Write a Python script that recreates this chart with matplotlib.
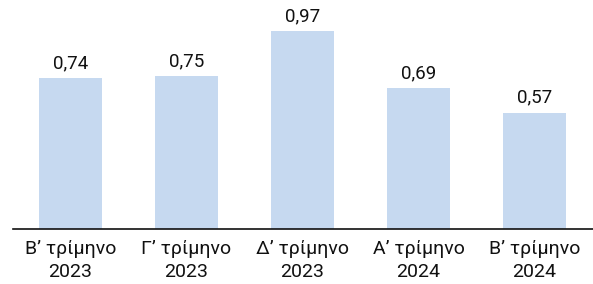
import matplotlib.pyplot as plt

categories = ["Β’ τρίμηνο\n2023", "Γ’ τρίμηνο\n2023", "Δ’ τρίμηνο\n2023",
              "Α’ τρίμηνο\n2024", "Β’ τρίμηνο\n2024"]
values = [0.74, 0.75, 0.97, 0.69, 0.57]
labels = ["0,74", "0,75", "0,97", "0,69", "0,57"]

plt.rcParams["font.family"] = ["Roboto", "DejaVu Sans"]

fig = plt.figure(figsize=(5.93, 2.84), dpi=100)
ax = fig.add_axes([12.5 / 593, 55 / 284, 580 / 593, 224 / 284])

bar_color = "#c6d9f0"
x = range(len(values))
bars = ax.bar(x, values, width=0.54, color=bar_color)

for b, lab in zip(bars, labels):
    ax.text(b.get_x() + b.get_width() / 2, b.get_height() + 0.03, lab,
            ha="center", va="bottom", fontsize=13.5, color="#111111")

ax.set_xlim(-0.5, 4.5)
ax.set_ylim(0, 1.1)
ax.set_xticks(list(x))
ax.set_xticklabels(categories, fontsize=14, color="#111111", linespacing=1.32)
ax.tick_params(axis="x", length=0, pad=8)
ax.set_yticks([])

for side in ["top", "right", "left"]:
    ax.spines[side].set_visible(False)
ax.spines["bottom"].set_color("#111111")
ax.spines["bottom"].set_linewidth(1.2)

fig.savefig("out.png", dpi=100)
